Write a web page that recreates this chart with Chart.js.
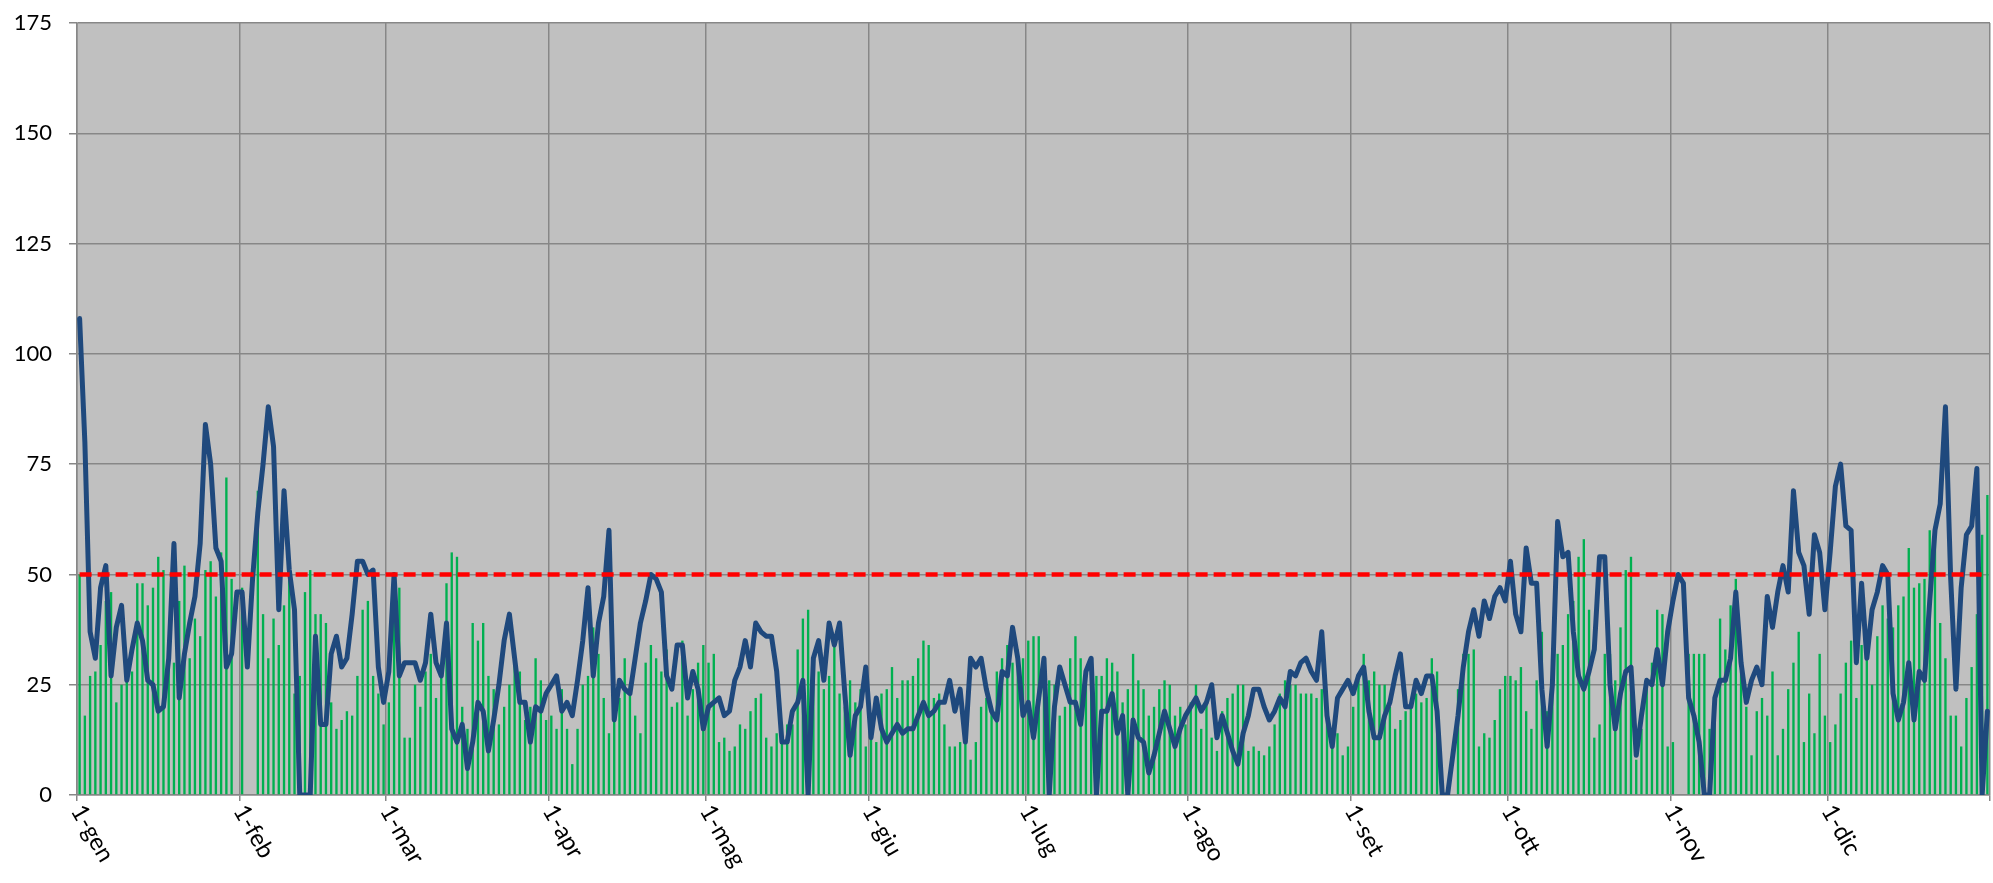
<!DOCTYPE html>
<html>
<head>
<meta charset="utf-8">
<script src="https://cdn.jsdelivr.net/npm/chart.js@4.4.1/dist/chart.umd.min.js"></script>
<style>
  html, body { margin: 0; padding: 0; background: #fff; }
  #wrap { width: 1993px; height: 883px; }
</style>
</head>
<body>
<div id="wrap"><canvas id="chart"></canvas></div>
<script>
var monthNames = ["gen", "feb", "mar", "apr", "mag", "giu", "lug", "ago", "set", "ott", "nov", "dic"];
var monthDays = [31, 28, 31, 30, 31, 30, 31, 31, 30, 31, 30, 31];
var yTicks = [0, 25, 50, 75, 100, 125, 150, 175];
var threshold = 50;

// green bars, one per day
var barValues = [
  50,18,27,28,34,44,46,21,25,26,28,48,48,43,47,54,51,30,30,44,52,31,40,36,51,53,45,55,72,49,0,          // gen
  47,0,0,69,41,31,40,34,43,49,23,27,46,51,41,41,39,21,15,17,19,18,27,42,44,27,23,16,                     // feb
  21,48,47,13,13,25,20,28,32,22,27,48,55,54,20,15,39,35,39,27,24,16,20,25,33,28,17,20,31,26,17,          // mar
  18,15,24,15,7,15,25,27,38,32,22,14,19,22,31,25,18,14,30,34,31,28,33,20,21,35,18,24,30,34,              // apr
  30,32,12,13,10,11,16,15,19,22,23,13,11,14,16,16,16,33,40,42,30,28,24,27,34,23,20,26,21,24,11,          // mag
  13,12,23,24,29,22,26,26,27,31,35,34,22,23,16,11,11,12,14,8,12,20,22,20,28,31,34,30,33,31,              // giu
  35,36,36,30,26,25,18,20,31,36,31,28,25,27,27,31,30,28,21,24,32,26,24,18,20,24,26,25,18,20,16,          // lug
  21,25,15,21,13,10,19,22,23,25,25,10,11,10,9,11,16,23,26,25,25,23,23,23,22,24,20,12,14,9,11,            // ago
  20,26,32,26,28,25,25,20,15,17,19,20,23,21,22,31,28,0,0,0,24,32,32,33,11,14,13,17,24,27,                // set
  27,26,29,19,15,26,37,19,24,32,34,41,44,54,58,42,13,16,32,32,26,38,51,54,8,15,25,30,42,41,11,           // ott
  12,0,0,32,32,32,32,15,22,40,33,43,49,28,20,9,19,22,18,28,9,15,24,30,37,12,23,14,32,18,                 // nov
  12,16,23,30,35,22,34,31,25,36,43,40,38,43,45,56,47,48,49,60,61,39,31,18,18,11,22,29,41,59,68           // dic
];

// blue line, one per day
var lineValues = [
  108,80,37,31,47,52,27,38,43,26,33,39,35,26,25,19,20,31,57,22,32,39,45,57,84,75,56,53,29,32,46,         // gen
  46,29,49,64,75,88,79,42,69,51,42,0,0,0,36,16,16,32,36,29,31,41,53,53,50,51,29,21,                      // feb
  28,50,27,30,30,30,26,30,41,30,27,39,15,12,16,6,12,21,19,10,17,25,35,41,31,21,21,12,20,19,23,           // mar
  25,27,19,21,18,26,35,47,27,39,45,60,17,26,24,23,31,39,44,50,49,46,27,24,34,34,22,28,24,15,             // apr
  20,21,22,18,19,26,29,35,29,39,37,36,36,28,12,12,19,21,26,0,31,35,26,39,34,39,23,9,18,20,29,            // mag
  13,22,15,12,14,16,14,15,15,18,21,18,19,21,21,26,19,24,12,31,29,31,24,19,17,28,27,38,31,18,             // giu
  21,13,22,31,0,20,29,25,21,21,16,28,31,0,19,19,23,14,18,0,17,13,12,5,9,14,19,15,11,15,18,               // lug
  20,22,19,21,25,13,18,14,10,7,14,18,24,24,20,17,19,22,20,28,27,30,31,28,26,37,18,11,22,24,26,           // ago
  23,27,29,19,13,13,18,21,27,32,20,20,26,23,27,27,19,0,0,9,18,29,37,42,36,44,40,45,47,44,                // set
  53,41,37,56,48,48,24,11,25,62,54,55,37,27,24,28,33,54,54,25,15,23,28,29,9,18,26,25,33,25,37,           // ott
  44,50,48,22,18,12,0,0,22,26,26,31,46,30,21,26,29,25,45,38,46,52,46,69,55,52,41,59,55,42,               // nov
  55,70,75,61,60,30,48,31,42,46,52,50,23,17,21,30,17,28,26,44,60,66,88,49,24,47,59,61,74,0,19            // dic
];

// category labels "1-gen", "2-gen", ...
var labels = [];
var monthStarts = [];
monthNames.forEach(function(m, i) {
  monthStarts.push(labels.length);
  for (var d = 1; d <= monthDays[i]; d++) labels.push(d + "-" + m);
});

var gridColor = "#878787";
var fontFamily = "Lato, 'Liberation Sans', sans-serif";

var plotBg = {
  id: "plotBg",
  beforeDraw: function(chart) {
    var a = chart.chartArea, ctx = chart.ctx;
    ctx.save();
    ctx.fillStyle = "#c0c0c0";
    ctx.fillRect(a.left, a.top, a.right - a.left, a.bottom - a.top);
    ctx.restore();
  }
};

// red dashed target line
var refLine = {
  id: "refLine",
  afterDatasetsDraw: function(chart) {
    var xs = chart.scales.x, ys = chart.scales.y, ctx = chart.ctx;
    var py = ys.getPixelForValue(threshold);
    ctx.save();
    ctx.strokeStyle = "#ff0000";
    ctx.lineWidth = 4.5;
    ctx.setLineDash([12, 6]);
    ctx.beginPath();
    ctx.moveTo(xs.getPixelForValue(0), py);
    ctx.lineTo(xs.getPixelForValue(labels.length - 1), py);
    ctx.stroke();
    ctx.restore();
  }
};

// month labels, rotated down to the right
var monthLabels = {
  id: "monthLabels",
  afterDraw: function(chart) {
    var xs = chart.scales.x, ctx = chart.ctx, a = chart.chartArea;
    var half = (xs.getPixelForValue(1) - xs.getPixelForValue(0)) / 2;
    ctx.save();
    ctx.font = "24px " + fontFamily;
    ctx.fillStyle = "#000";
    ctx.textAlign = "left";
    ctx.textBaseline = "middle";
    monthStarts.forEach(function(idx) {
      ctx.save();
      ctx.translate(xs.getPixelForValue(idx) - half, a.bottom + 12);
      ctx.rotate(Math.PI / 3);
      ctx.fillText(labels[idx], 0, 0);
      ctx.restore();
    });
    ctx.restore();
  }
};

new Chart(document.getElementById("chart"), {
  type: "bar",
  data: {
    labels: labels,
    datasets: [{
      type: "line",
      data: lineValues,
      borderColor: "#1f497d",
      borderWidth: 5,
      pointRadius: 0,
      tension: 0,
      borderJoinStyle: "round",
      borderCapStyle: "round",
      order: 0
    }, {
      type: "bar",
      data: barValues,
      backgroundColor: "#00b050",
      barPercentage: 0.45,
      categoryPercentage: 1,
      order: 1
    }]
  },
  options: {
    responsive: true,
    maintainAspectRatio: false,
    animation: false,
    layout: { padding: { top: 0, right: 3, bottom: 82, left: 0 } },
    plugins: { legend: { display: false }, tooltip: { enabled: false } },
    scales: {
      x: {
        offset: true,
        ticks: { display: false },
        grid: {
          offset: true,
          lineWidth: 1.5,
          tickLength: 6,
          color: function(c) {
            if (c.index === undefined) return gridColor;
            return monthStarts.indexOf(c.index) >= 0 ? gridColor : "rgba(0,0,0,0)";
          }
        },
        border: { color: gridColor, width: 1.5 }
      },
      y: {
        min: 0,
        max: 175,
        afterBuildTicks: function(s) { s.ticks = yTicks.map(function(v) { return { value: v }; }); },
        afterFit: function(s) { s.width = 77; },
        ticks: { color: "#000", padding: 17, font: { family: fontFamily, size: 22, lineHeight: 0.55 } },
        grid: { color: gridColor, lineWidth: 1.5, tickLength: 8 },
        border: { color: gridColor, width: 1.5 }
      }
    }
  },
  plugins: [plotBg, refLine, monthLabels]
});
</script>
</body>
</html>
